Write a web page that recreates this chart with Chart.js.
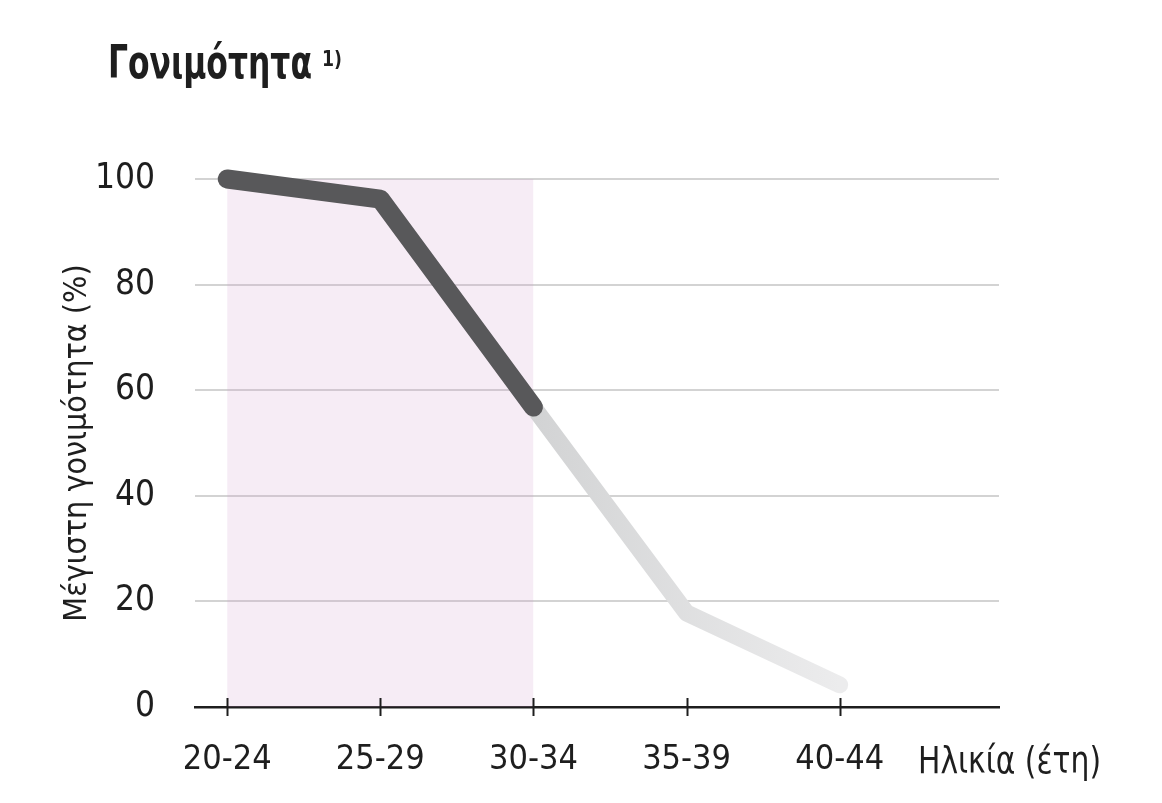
<!DOCTYPE html>
<html>
<head>
<meta charset="utf-8">
<script src="https://cdn.jsdelivr.net/npm/chart.js@4/dist/chart.umd.min.js"></script>
<style>
  html, body { margin: 0; padding: 0; background: #ffffff; }
  #wrap { width: 1162px; height: 803px; }
</style>
</head>
<body>
<div id="wrap"><canvas id="c" width="1162" height="803"></canvas></div>
<script>
// ---- data ----
const ageGroups = ['20-24', '25-29', '30-34', '35-39', '40-44'];
const peakFertility = [100, 96.2, 56.8, null, null];      // dark segment
const declineFertility = [null, null, 56.8, 17.8, 4.2];   // light segment
const shadedFrom = '20-24';
const shadedTo = '30-34';
const shadedLevel = 100;
const yTicks = [0, 20, 40, 60, 80, 100];
const chartTitle = 'Γονιμότητα';
const titleNote = '1)';
const yTitle = 'Μέγιστη γονιμότητα (%)';
const xTitle = 'Ηλικία (έτη)';

const FONT = "'Liberation Sans Narrow', 'DejaVu Sans Condensed', 'Arial Narrow', sans-serif";

const toPoints = arr => arr.map((v, i) => ({ x: i, y: v }));
const shadeIdx = [ageGroups.indexOf(shadedFrom), ageGroups.indexOf(shadedTo)];

function fitText(ctx, text, x, y, targetW) {
  const w = ctx.measureText(text).width;
  const sx = Math.min(1, targetW / w);
  ctx.save();
  ctx.translate(x, y);
  ctx.scale(sx, 1);
  ctx.fillText(text, 0, 0);
  ctx.restore();
  return w * sx;
}

const extrasPlugin = {
  id: 'extras',
  afterDraw(chart) {
    const ctx = chart.ctx;
    const xs = chart.scales.x;
    const base = chart.chartArea.bottom;
    ctx.save();
    // tick marks crossing the axis
    ctx.strokeStyle = '#1e1e1e';
    ctx.lineWidth = 2;
    ageGroups.forEach((_, i) => {
      const px = Math.round(xs.getPixelForValue(i)) + 0.5;
      ctx.beginPath();
      ctx.moveTo(px, base - 9);
      ctx.lineTo(px, base + 9);
      ctx.stroke();
    });
    // x axis caption, aligned with tick labels
    ctx.fillStyle = '#1e1e1e';
    ctx.textBaseline = 'alphabetic';
    ctx.textAlign = 'left';
    ctx.font = '38px ' + FONT;
    fitText(ctx, xTitle, 918, 773, 183);
    // chart title
    ctx.font = 'bold 46px ' + FONT;
    const w = fitText(ctx, chartTitle, 108, 78, 204);
    ctx.font = 'bold 22px ' + FONT;
    fitText(ctx, titleNote, 108 + w + 10, 66, 20);
    ctx.restore();
  }
};

const ctx = document.getElementById('c').getContext('2d');
new Chart(ctx, {
  type: 'line',
  data: {
    datasets: [
      {
        label: 'peak',
        data: toPoints(peakFertility),
        borderColor: '#58585a',
        borderWidth: 19,
        borderCapStyle: 'round',
        borderJoinStyle: 'round',
        pointRadius: 0,
        fill: false,
        clip: false,
        order: 1
      },
      {
        label: 'decline',
        data: toPoints(declineFertility),
        borderColor: (c) => {
          const { chart } = c;
          const area = chart.chartArea;
          if (!area) return '#dcdcdd';
          const xs = chart.scales.x;
          const g = chart.ctx.createLinearGradient(xs.getPixelForValue(2), 0, xs.getPixelForValue(4), 0);
          g.addColorStop(0, '#d2d3d4');
          g.addColorStop(1, '#ececed');
          return g;
        },
        borderWidth: 17,
        borderCapStyle: 'round',
        borderJoinStyle: 'round',
        pointRadius: 0,
        fill: false,
        clip: false,
        order: 2
      },
      {
        label: 'band',
        data: [{ x: shadeIdx[0], y: shadedLevel }, { x: shadeIdx[1], y: shadedLevel }],
        borderWidth: 0,
        borderColor: 'rgba(0,0,0,0)',
        backgroundColor: 'rgba(210,160,205,0.2)',
        pointRadius: 0,
        fill: 'origin',
        order: 3
      }
    ]
  },
  options: {
    responsive: false,
    animation: false,
    events: [],
    layout: { padding: { top: 179, left: 0, right: 163, bottom: 0 } },
    plugins: {
      legend: { display: false },
      tooltip: { enabled: false },
      title: { display: false }
    },
    scales: {
      x: {
        type: 'linear',
        min: -0.21,
        max: 5.04,
        afterBuildTicks: (s) => { s.ticks = ageGroups.map((_, i) => ({ value: i })); },
        afterFit: (s) => { s.height = 96; },
        ticks: {
          autoSkip: false,
          maxRotation: 0,
          padding: 33,
          color: '#1e1e1e',
          font: { family: FONT, size: 34 },
          callback: (v) => ageGroups[v] ?? ''
        },
        grid: { display: false, drawTicks: false },
        border: { display: true, color: '#1e1e1e', width: 2.5 }
      },
      y: {
        min: 0,
        max: 100,
        afterBuildTicks: (s) => { s.ticks = yTicks.map(v => ({ value: v })); },
        afterFit: (s) => { s.width = 195; },
        ticks: {
          padding: 40,
          color: '#1e1e1e',
          font: { family: FONT, size: 35 }
        },
        grid: { color: '#d3d3d3', lineWidth: 2, drawTicks: false },
        border: { display: false },
        title: {
          display: true,
          text: yTitle,
          color: '#1e1e1e',
          font: { family: FONT, size: 32, lineHeight: 1 },
          padding: { top: 62, bottom: 0 }
        }
      }
    }
  },
  plugins: [extrasPlugin]
});
</script>
</body>
</html>
